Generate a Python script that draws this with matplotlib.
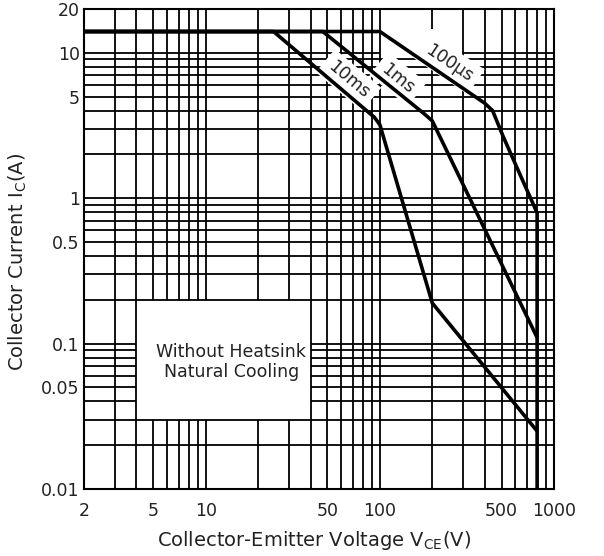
import matplotlib
matplotlib.use("Agg")
import matplotlib.pyplot as plt

# ---------------- data ----------------
v_100us = [2, 100, 400, 444, 511, 586, 671, 757, 800, 800]
i_100us = [14, 14, 4.5, 4.0, 2.65, 1.83, 1.27, 0.92, 0.79, 0.01]

v_1ms = [2, 47, 180, 200, 800]
i_1ms = [14, 14, 3.8, 3.4, 0.11]

v_10ms = [2, 24.5, 93, 100, 200, 800]
i_10ms = [14, 14, 3.6, 3.2, 0.19, 0.025]

curve_labels = ["100µs", "1ms", "10ms"]
label_pos = [(250, 8.4), (127, 6.6), (66, 6.5)]
label_rot = [-34, -39, -40]

x_ticks = [2, 5, 10, 50, 100, 500, 1000]
x_ticklabels = ["2", "5", "10", "50", "100", "500", "1000"]
y_ticks = [0.01, 0.05, 0.1, 0.5, 1, 5, 10, 20]
y_ticklabels = ["0.01", "0.05", "0.1", "0.5", "1", "5", "10", "20"]

x_grid = [3, 4, 5, 6, 7, 8, 9, 10, 20, 30, 40, 50, 60, 70, 80, 90,
          100, 200, 300, 400, 500, 600, 700, 800, 900]
y_grid = [0.02, 0.03, 0.04, 0.05, 0.06, 0.07, 0.08, 0.09,
          0.1, 0.2, 0.3, 0.4, 0.5, 0.6, 0.7, 0.8, 0.9,
          1, 2, 3, 4, 5, 6, 7, 8, 9, 10]

note_text = "Without Heatsink\nNatural Cooling"
note_box_x = (4, 40)
note_box_y = (0.03, 0.2)

xlabel = r"Collector-Emitter Voltage V$_{\mathregular{CE}}$(V)"
ylabel = r"Collector Current I$_{\mathregular{C}}$(A)"

# ---------------- figure ----------------
plt.rcParams['font.family'] = ['DejaVu Sans']
plt.rcParams['mathtext.default'] = 'regular'
fig = plt.figure(figsize=(6.04, 5.56), dpi=100)
ax = fig.add_axes([84 / 604, 67 / 556, 470 / 604, 480 / 556])
ax.set_xscale('log')
ax.set_yscale('log')
xmin, xmax = 2, 1000
ymin, ymax = 0.01, 20
ax.set_xlim(xmin, xmax)
ax.set_ylim(ymin, ymax)


def split(lo, hi, gaps):
    segs = [(lo, hi)]
    for g0, g1 in gaps:
        new = []
        for a, b in segs:
            if g1 <= a or g0 >= b:
                new.append((a, b))
                continue
            if a < g0:
                new.append((a, g0))
            if g1 < b:
                new.append((g1, b))
        segs = new
    return segs


glw = 1.3
for x in x_grid:
    gaps = []
    if note_box_x[0] < x < note_box_x[1]:
        gaps.append(note_box_y)
    if x == 200:
        gaps.append((8, 14.5))
    for a, b in split(ymin, ymax, gaps):
        ax.plot([x, x], [a, b], color='black', lw=glw, zorder=1,
                solid_capstyle='butt')
for y in y_grid:
    gaps = []
    if note_box_y[0] < y < note_box_y[1]:
        gaps.append(note_box_x)
    if y == 10:
        gaps.append((100, 300))
    for a, b in split(xmin, xmax, gaps):
        ax.plot([a, b], [y, y], color='black', lw=glw, zorder=1,
                solid_capstyle='butt')

clw = 2.6
for v, i in [(v_100us, i_100us), (v_1ms, i_1ms), (v_10ms, i_10ms)]:
    ax.plot(v, i, color='black', lw=clw, zorder=5, solid_joinstyle='round',
            solid_capstyle='butt')

for txt, (px, py), rot in zip(curve_labels, label_pos, label_rot):
    ax.text(px, py, txt, rotation=rot, rotation_mode='anchor',
            ha='center', va='center', fontsize=12.5, zorder=3,
            color='#222222',
            bbox=dict(boxstyle='square,pad=0.35', fc='white', ec='none'))

ax.text(14, 0.075, note_text, ha='center', va='center', fontsize=12.5,
        linespacing=1.15, zorder=3, color='#222222')

for s in ax.spines.values():
    s.set_linewidth(1.5)
    s.set_color('black')
    s.set_zorder(6)

ax.set_xticks(x_ticks)
ax.set_xticklabels(x_ticklabels)
ax.set_yticks(y_ticks)
ax.set_yticklabels(y_ticklabels)
ax.minorticks_off()
ax.tick_params(length=0, labelsize=12.5, colors='#222222')
ax.tick_params(axis='x', pad=9)
ax.tick_params(axis='y', pad=3)

ax.set_xlabel(xlabel, fontsize=14, color='#222222')
ax.xaxis.label.set_va('center')
ax.xaxis.set_label_coords(0.5 - 5 / 470, -(540 - 489) / 480)
ax.set_ylabel(ylabel, fontsize=14, color='#222222')
ax.yaxis.label.set_va('center')
ax.yaxis.set_label_coords(-(84 - 17.5) / 470, (489 - 262) / 480)

fig.savefig("out.png", dpi=100, facecolor='white')
